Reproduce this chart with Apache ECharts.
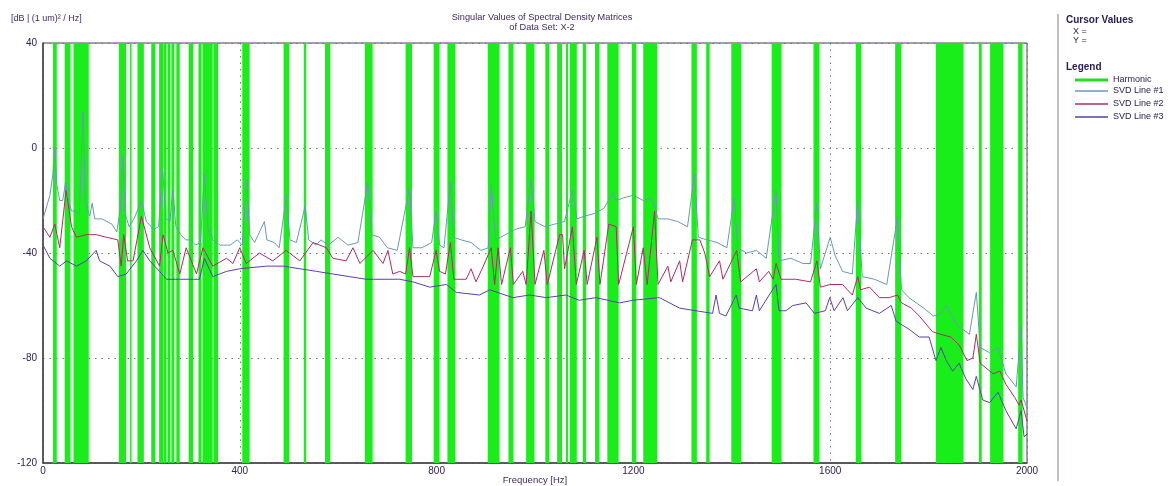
<!DOCTYPE html>
<html>
<head>
<meta charset="utf-8">
<script src="https://cdn.jsdelivr.net/npm/echarts@6/dist/echarts.min.js"></script>
<style>
html,body{margin:0;padding:0;background:#fff;}
#chart{width:1168px;height:486px;}
</style>
</head>
<body>
<div id="chart"></div>
<script>
// ---- data ----
var xTicks = [0, 400, 800, 1200, 1600, 2000];
var yTicks = [-120, -80, -40, 0, 40];

// harmonic bands [startHz, endHz]
var harmonicBands = [
  [20,28],[44,56],[62,93],[154,169],[177,180],[192,205],[220,228],[236,244],[245,251],
  [253,259],[261,267],[271,278],[296,305],[316,322],[324,345],[347,356],[405,420],
  [489,500],[530,535],[573,584],[654,670],[737,750],[794,806],[822,838],[904,928],
  [946,956],[982,999],[1021,1029],[1045,1055],[1063,1067],[1071,1085],[1097,1104],
  [1122,1131],[1147,1170],[1197,1206],[1220,1248],[1318,1329],[1348,1355],[1399,1419],
  [1481,1501],[1566,1578],[1652,1663],[1732,1744],[1815,1871],[1902,1908],[1925,1952],
  [1982,1991]
];

// SVD Line #1 [Hz, dB]
var svd1 = [
  [0,-27],[8,-22],[14,-18],[20,-10],[24,0],[28,-14],[34,-20],[40,-20],[46,-13],[52,-20],
  [58,-24],[66,-24],[74,-25],[81,14],[86,-20],[95,-26],[100,-21],[105,-27],[120,-27],
  [140,-29],[150,-32],[158,-22],[162,-3],[167,-25],[175,-30],[185,-27],[200,-20],
  [210,-28],[225,-31],[235,-30],[243,-8],[250,-27],[258,-28],[264,-16],[270,-30],
  [280,-33],[290,-35],[300,-35],[310,-37],[320,-36],[328,-10],[335,-30],[345,-35],
  [360,-37],[380,-37],[395,-35],[405,-37],[414,-12],[420,-33],[430,-36],[450,-28],
  [455,-35],[470,-36],[480,-38],[495,-18],[502,-35],[515,-36],[533,-22],[540,-35],
  [555,-37],[565,-35],[580,-37],[600,-34],[620,-37],[640,-36],[660,-13],[668,-33],
  [684,-34],[700,-38],[720,-39],[745,-15],[752,-38],[770,-38],[790,-36],[799,-24],
  [806,-37],[815,-38],[828,-13],[835,-34],[850,-35],[870,-36],[890,-39],[905,-38],
  [911,-14],[920,-35],[940,-33],[960,-31],[980,-30],[992,-12],[1000,-28],[1020,-30],
  [1040,-29],[1060,-28],[1076,-16],[1085,-27],[1100,-26],[1120,-25],[1140,-23],
  [1158,-17],[1165,-20],[1180,-19],[1200,-18],[1220,-20],[1235,-19],[1243,-22],
  [1250,-27],[1270,-27],[1290,-28],[1310,-30],[1324,-10],[1332,-34],[1350,-35],
  [1370,-36],[1390,-38],[1405,-19],[1412,-38],[1430,-40],[1450,-39],[1470,-42],
  [1490,-16],[1496,-43],[1520,-42],[1545,-44],[1560,-44],[1573,-21],[1580,-46],
  [1590,-40],[1600,-34],[1610,-41],[1625,-47],[1645,-48],[1656,-20],[1665,-49],
  [1690,-50],[1715,-52],[1737,-26],[1745,-54],[1760,-57],[1790,-61],[1810,-64],
  [1825,-63],[1836,-60],[1856,-67],[1883,-71],[1897,-55],[1905,-76],[1924,-78],
  [1941,-76],[1957,-86],[1978,-91],[1988,-68],[1992,-95],[2000,-99]
];

// SVD Line #2 [Hz, dB]
var svd2 = [
  [0,-30],[14,-34],[24,-29],[34,-38],[47,-16],[58,-30],[68,-34],[88,-33],[108,-33],
  [129,-34],[152,-35],[159,-45],[164,-33],[172,-43],[183,-43],[200,-26],[217,-38],
  [237,-45],[244,-33],[254,-40],[264,-39],[278,-48],[291,-38],[312,-48],[325,-38],
  [345,-45],[373,-42],[386,-44],[400,-38],[413,-44],[440,-40],[467,-43],[494,-39],
  [522,-43],[549,-36],[576,-38],[589,-42],[616,-43],[630,-38],[644,-44],[671,-39],
  [691,-44],[701,-39],[711,-48],[725,-47],[737,-48],[745,-38],[752,-49],[786,-49],
  [799,-39],[806,-47],[818,-48],[828,-36],[835,-50],[860,-50],[870,-46],[880,-51],
  [895,-45],[911,-38],[918,-52],[925,-38],[932,-52],[950,-38],[956,-52],[975,-47],
  [982,-52],[992,-24],[1000,-52],[1018,-39],[1025,-52],[1050,-33],[1056,-33],
  [1060,-46],[1076,-30],[1084,-52],[1100,-39],[1106,-52],[1126,-34],[1132,-52],
  [1150,-29],[1165,-30],[1170,-52],[1200,-30],[1206,-52],[1220,-38],[1228,-52],
  [1243,-24],[1250,-52],[1270,-45],[1276,-51],[1294,-43],[1300,-51],[1320,-35],
  [1335,-35],[1345,-40],[1355,-49],[1375,-43],[1382,-50],[1410,-39],[1418,-51],
  [1450,-46],[1456,-51],[1475,-47],[1484,-50],[1490,-44],[1500,-50],[1530,-50],
  [1560,-51],[1573,-43],[1580,-53],[1600,-52],[1625,-52],[1645,-56],[1656,-49],
  [1662,-54],[1680,-53],[1700,-57],[1720,-57],[1737,-56],[1745,-59],[1765,-61],
  [1781,-64],[1808,-70],[1825,-71],[1845,-72],[1862,-75],[1878,-81],[1890,-80],
  [1897,-71],[1905,-82],[1931,-86],[1945,-85],[1957,-90],[1975,-95],[1984,-98],
  [1988,-96],[2000,-104]
];

// SVD Line #3 [Hz, dB]
var svd3 = [
  [0,-37],[14,-42],[34,-45],[48,-43],[68,-45],[88,-43],[108,-39],[115,-43],[136,-45],
  [152,-49],[169,-48],[190,-43],[203,-39],[217,-43],[237,-47],[251,-50],[278,-50],
  [305,-50],[318,-50],[328,-42],[345,-49],[373,-47],[400,-46],[454,-45],[488,-45],
  [522,-46],[556,-47],[589,-48],[623,-49],[657,-50],[691,-50],[725,-50],[752,-51],
  [786,-53],[820,-52],[840,-55],[887,-56],[908,-54],[955,-57],[989,-56],[1023,-57],
  [1063,-56],[1090,-58],[1124,-57],[1172,-59],[1199,-58],[1253,-57],[1294,-61],
  [1327,-62],[1361,-63],[1368,-56],[1375,-63],[1388,-64],[1409,-56],[1415,-61],
  [1442,-62],[1450,-56],[1456,-62],[1476,-56],[1490,-52],[1496,-62],[1510,-62],
  [1524,-60],[1551,-59],[1568,-63],[1590,-62],[1599,-57],[1608,-62],[1626,-57],
  [1635,-62],[1656,-57],[1673,-61],[1700,-63],[1724,-60],[1734,-66],[1760,-69],
  [1781,-72],[1801,-72],[1815,-81],[1825,-76],[1836,-81],[1849,-85],[1862,-82],
  [1876,-88],[1890,-92],[1897,-87],[1910,-96],[1924,-97],[1941,-93],[1957,-100],
  [1978,-107],[1988,-100],[1994,-110],[2000,-109]
];

// ---- chart ----
var textColor = '#35204f';
var fontFam = 'Liberation Sans, Arial, sans-serif';
var chart = echarts.init(document.getElementById('chart'), null, {renderer: 'canvas'});
var bandAreas = harmonicBands.map(function (b) {
  return [{xAxis: b[0]}, {xAxis: b[1]}];
});

chart.setOption({
  animation: false,
  backgroundColor: '#ffffff',
  textStyle: {fontFamily: fontFam},
  title: {
    text: 'Singular Values of Spectral Density Matrices\nof Data Set: X-2',
    left: 537, top: 7.5, textAlign: 'center', padding: 5,
    textStyle: {fontSize: 9.2, fontWeight: 'normal', color: '#3d2a60', lineHeight: 10, fontFamily: fontFam}
  },
  grid: {
    left: 43, right: 141, top: 43, bottom: 23,
    outerBoundsMode: 'none', containLabel: false,
    show: true, borderColor: '#4a3a60', borderWidth: 1, backgroundColor: 'transparent'
  },
  legend: [
    {
      data: ['Harmonic'], orient: 'vertical', left: 1075, top: 74.5, padding: 0,
      icon: 'rect', itemWidth: 33, itemHeight: 3, itemGap: 2,
      textStyle: {fontSize: 9, color: '#2a2050', lineHeight: 11, fontFamily: fontFam}
    },
    {
      data: ['SVD Line #1', 'SVD Line #2', 'SVD Line #3'], orient: 'vertical', left: 1075, top: 85.5, padding: 0,
      icon: 'rect', itemWidth: 33, itemHeight: 1.5, itemGap: 2,
      textStyle: {fontSize: 9, color: '#2a2050', lineHeight: 11, fontFamily: fontFam}
    }
  ],
  xAxis: {
    type: 'value', min: 0, max: 2000, interval: 400,
    name: 'Frequency [Hz]', nameLocation: 'middle', nameGap: 17.5, nameMoveOverlap: false,
    nameTextStyle: {fontSize: 9.5, color: '#3d2a60', verticalAlign: 'middle'},
    axisLine: {show: true, onZero: false, lineStyle: {color: '#444', width: 1.5}},
    axisTick: {show: false},
    axisLabel: {fontSize: 10, color: textColor, margin: 3, formatter: function (v) { return String(v); }},
    splitLine: {show: true, lineStyle: {color: '#777', type: [1.5, 5], width: 1}}
  },
  yAxis: {
    type: 'value', min: -120, max: 40, interval: 40,
    name: '[dB | (1 um)² / Hz]', nameLocation: 'end', nameGap: 20,
    nameTextStyle: {fontSize: 9, color: '#3d2a60', align: 'left', padding: [0, 0, 0, -32]},
    axisLine: {show: true, onZero: false, lineStyle: {color: '#444', width: 1.5}},
    axisTick: {show: false},
    axisLabel: {fontSize: 10, color: textColor, margin: 6},
    splitLine: {show: true, lineStyle: {color: '#777', type: [1.5, 5], width: 1}}
  },
  graphic: [
    {type: 'line', shape: {x1: 1058, y1: 14, x2: 1058, y2: 481}, style: {stroke: '#8a7a9a', lineWidth: 1}},
    {type: 'text', left: 1066, top: 15, style: {text: 'Cursor Values', font: 'bold 10px Liberation Sans, Arial', fill: '#2a2050'}},
    {type: 'text', left: 1073, top: 27.5, style: {text: 'X =', font: '9px Liberation Sans, Arial', fill: '#2a2050'}},
    {type: 'text', left: 1073, top: 36, style: {text: 'Y =', font: '9px Liberation Sans, Arial', fill: '#2a2050'}},
    {type: 'text', left: 1066, top: 62.5, style: {text: 'Legend', font: 'bold 10px Liberation Sans, Arial', fill: '#2a2050'}}
  ],
  series: [
    {
      name: 'Harmonic', type: 'line', data: [], z: 1, symbol: 'none',
      itemStyle: {color: '#22dd22'}, lineStyle: {color: '#22dd22', width: 3},
      markArea: {silent: true, itemStyle: {color: '#1aee1a', opacity: 1}, data: bandAreas}
    },
    {
      name: 'SVD Line #1', type: 'line', data: svd1, z: 4, symbol: 'none',
      itemStyle: {color: '#6b98b8'}, lineStyle: {color: '#6b98b8', width: 1}
    },
    {
      name: 'SVD Line #2', type: 'line', data: svd2, z: 3, symbol: 'none',
      itemStyle: {color: '#b02a6a'}, lineStyle: {color: '#b02a6a', width: 1}
    },
    {
      name: 'SVD Line #3', type: 'line', data: svd3, z: 2, symbol: 'none',
      itemStyle: {color: '#5a3fa8'}, lineStyle: {color: '#5a3fa8', width: 1}
    }
  ]
});
</script>
</body>
</html>
